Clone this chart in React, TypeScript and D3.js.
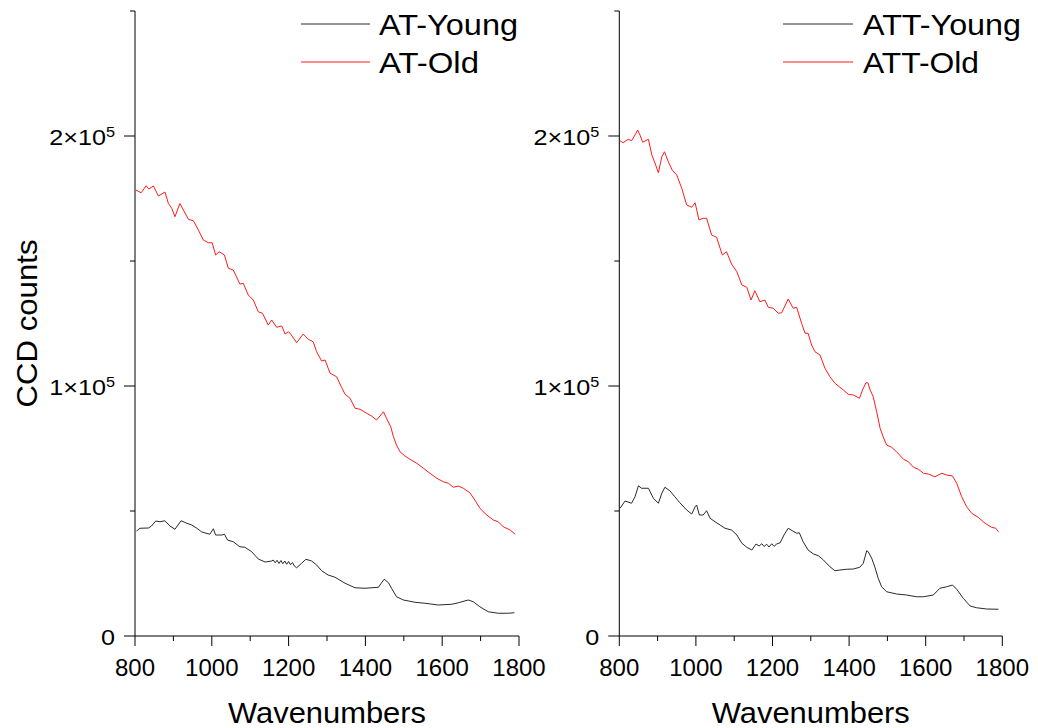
import React from "react";
import * as d3 from "d3";

// ---------- DATA ----------
const xTicksMajor = [800, 1000, 1200, 1400, 1600, 1800];
const xTicksMinor = [900, 1100, 1300, 1500, 1700];
const yTicksMajor = [0, 100000, 200000];
const yTicksMinor = [50000, 150000, 250000];

const atYoungWn = [804, 813, 835, 843, 854, 865, 878, 891, 904, 920, 935, 948, 961, 974, 995, 1004, 1010, 1026, 1033, 1041, 1056, 1073, 1086, 1104, 1121, 1139, 1156, 1160, 1165, 1170, 1175, 1180, 1185, 1190, 1195, 1200, 1205, 1210, 1215, 1221, 1234, 1245, 1260, 1273, 1286, 1303, 1321, 1347, 1373, 1399, 1434, 1442, 1449, 1460, 1468, 1481, 1499, 1529, 1555, 1590, 1625, 1642, 1668, 1681, 1698, 1720, 1746, 1772, 1788];
const atYoungCounts = [42000, 43100, 43200, 44000, 46000, 45700, 46100, 44000, 42700, 46100, 45100, 44400, 43100, 41600, 40700, 42900, 40400, 40400, 40700, 38400, 37700, 35700, 35500, 33700, 30800, 29600, 30000, 30400, 29300, 30300, 29000, 30200, 28900, 30000, 28700, 29800, 28500, 29400, 28000, 27300, 29100, 30700, 30000, 28400, 26100, 24400, 23500, 21100, 19300, 19100, 19500, 21300, 22700, 21300, 19100, 15700, 14400, 13500, 13100, 12400, 12700, 13300, 14400, 13700, 11700, 9700, 9100, 9100, 9300];

const atOldWn = [802, 816, 829, 836, 848, 861, 878, 887, 896, 904, 917, 926, 939, 952, 965, 978, 991, 1001, 1010, 1019, 1033, 1043, 1056, 1073, 1082, 1095, 1108, 1121, 1132, 1147, 1156, 1169, 1182, 1191, 1199, 1204, 1221, 1238, 1251, 1264, 1273, 1286, 1295, 1308, 1325, 1338, 1347, 1360, 1373, 1386, 1403, 1416, 1429, 1438, 1447, 1455, 1466, 1473, 1481, 1490, 1503, 1516, 1534, 1551, 1568, 1586, 1603, 1616, 1629, 1642, 1655, 1672, 1685, 1698, 1716, 1733, 1746, 1759, 1777, 1790];
const atOldCounts = [178400, 177300, 180100, 178800, 180000, 176000, 177600, 173000, 171000, 167700, 173000, 170400, 166700, 166100, 162400, 158400, 157300, 157300, 152400, 153700, 152400, 147100, 146400, 140800, 141100, 136400, 134400, 129700, 129100, 124400, 126400, 123500, 124000, 120800, 121700, 121100, 117300, 120800, 118700, 117700, 113700, 110000, 110400, 105100, 103700, 99500, 96700, 95100, 91100, 90700, 89100, 88000, 86400, 88000, 89700, 87100, 83700, 79700, 76400, 73700, 72000, 70700, 69100, 67100, 65100, 63100, 61700, 61100, 59500, 60000, 59100, 57300, 54400, 51100, 48400, 46400, 45700, 43700, 42400, 40700];

const attYoungWn = [802, 815, 832, 841, 850, 858, 876, 889, 902, 911, 919, 932, 945, 958, 976, 989, 998, 1002, 1009, 1019, 1028, 1037, 1050, 1063, 1076, 1093, 1107, 1120, 1133, 1146, 1157, 1165, 1172, 1178, 1185, 1191, 1198, 1204, 1211, 1220, 1230, 1241, 1253, 1263, 1270, 1280, 1293, 1307, 1320, 1333, 1350, 1363, 1376, 1394, 1411, 1428, 1437, 1446, 1450, 1459, 1467, 1476, 1485, 1498, 1524, 1550, 1576, 1594, 1620, 1637, 1655, 1670, 1681, 1698, 1716, 1733, 1759, 1790];
const attYoungCounts = [51100, 54000, 53100, 55700, 60100, 59100, 59100, 55100, 53100, 57100, 59500, 58100, 55700, 53300, 50400, 48800, 51700, 52400, 48400, 48400, 50100, 47100, 45700, 44400, 43100, 42400, 40400, 37100, 35500, 34400, 36800, 36000, 36900, 35800, 36700, 35600, 36900, 35900, 36800, 37300, 40400, 43100, 42000, 41100, 41300, 37700, 34400, 32800, 32100, 30400, 27700, 26100, 26400, 26700, 26800, 27500, 29100, 34100, 33700, 31100, 27700, 23100, 19700, 17700, 16800, 16400, 15700, 15700, 16400, 19100, 19700, 20400, 18700, 15100, 12000, 11300, 10800, 10700];

const attOldWn = [802, 810, 823, 832, 841, 848, 854, 861, 876, 885, 895, 902, 911, 918, 928, 938, 950, 963, 976, 989, 998, 1008, 1019, 1028, 1041, 1054, 1069, 1080, 1093, 1107, 1120, 1133, 1144, 1154, 1167, 1180, 1189, 1202, 1215, 1224, 1241, 1254, 1263, 1276, 1285, 1293, 1302, 1311, 1324, 1337, 1350, 1363, 1376, 1385, 1398, 1411, 1427, 1435, 1444, 1449, 1455, 1463, 1472, 1481, 1489, 1498, 1511, 1524, 1542, 1555, 1568, 1581, 1594, 1607, 1624, 1642, 1655, 1670, 1681, 1694, 1707, 1720, 1737, 1755, 1772, 1783, 1790];
const attOldCounts = [198100, 197300, 198700, 198100, 200400, 202400, 200400, 197500, 198700, 192400, 188400, 185300, 191700, 193700, 189700, 186400, 184400, 179100, 172400, 171500, 173300, 166400, 167100, 167100, 160400, 159500, 152400, 153700, 148800, 145700, 140400, 139500, 134400, 138100, 133700, 134400, 131500, 131100, 129100, 129300, 134800, 131100, 131500, 125100, 121100, 121100, 116400, 113700, 112400, 107100, 103700, 101100, 99500, 98400, 96700, 96400, 95100, 98400, 101300, 101300, 98400, 95700, 89700, 83100, 79700, 76400, 75500, 73700, 70700, 69700, 67500, 66700, 65100, 64800, 63700, 65100, 64400, 64000, 61100, 55700, 51700, 49100, 47500, 45100, 43500, 43100, 41700];

const leftLegend = ["AT-Young", "AT-Old"];
const rightLegend = ["ATT-Young", "ATT-Old"];
const yTickBase = ["0", "1\u00d710", "2\u00d710"];
const seriesColors = ["#2a2a2a", "#ff1a1a"];

// ---------- LAYOUT ----------
const FONT = "'Liberation Sans', Arial, sans-serif";
const yScale = d3.scaleLinear().domain([0, 250000]).range([636, 11]);

type Ser = { wn: number[]; c: number[] };

function Panel(props: {
  x0: number;
  x1: number;
  series: Ser[];
  legend: string[];
  legWidths: number[];
  legLine: [number, number];
  legText: number;
  yLabel?: boolean;
}) {
  const x = d3.scaleLinear().domain([800, 1800]).range([props.x0, props.x1]);
  const y0 = yScale(0);
  const line = d3
    .line<[number, number]>()
    .x((d) => x(d[0]))
    .y((d) => yScale(d[1]));
  return (
    <g>
      <line x1={props.x0} x2={props.x0} y1={yScale(250000)} y2={y0} stroke="#000" strokeWidth={1} />
      <line x1={props.x0} x2={props.x1} y1={y0} y2={y0} stroke="#000" strokeWidth={1} />
      {xTicksMajor.map((t) => (
        <g key={"xm" + t}>
          <line x1={x(t)} x2={x(t)} y1={y0} y2={y0 + 10} stroke="#000" />
          <text x={x(t)} y={y0 + 40} textAnchor="middle" fontSize={24} fontFamily={FONT}>
            {t}
          </text>
        </g>
      ))}
      {xTicksMinor.map((t) => (
        <line key={"xn" + t} x1={x(t)} x2={x(t)} y1={y0} y2={y0 + 5} stroke="#000" />
      ))}
      {yTicksMajor.map((t, i) => (
        <g key={"ym" + t}>
          <line x1={props.x0 - 11} x2={props.x0} y1={yScale(t)} y2={yScale(t)} stroke="#000" />
          <g transform={`translate(${props.x0 - 20}, ${yScale(t) + 9}) scale(1.12, 1)`}>
            <text x={0} y={0} textAnchor="end" fontSize={22.5} fontFamily={FONT}>
              {yTickBase[i]}
              {t > 0 ? (
                <tspan dy={-8} fontSize={14.5}>
                  5
                </tspan>
              ) : null}
            </text>
          </g>
        </g>
      ))}
      {yTicksMinor.map((t) => (
        <line key={"yn" + t} x1={props.x0 - 5} x2={props.x0} y1={yScale(t)} y2={yScale(t)} stroke="#000" />
      ))}
      {props.series.map((s, i) => (
        <path
          key={"s" + i}
          d={line(s.wn.map((w, j) => [w, s.c[j]] as [number, number])) || ""}
          fill="none"
          stroke={seriesColors[i]}
          strokeWidth={1}
        />
      ))}
      {props.legend.map((lab, i) => (
        <g key={"l" + i}>
          <line
            x1={props.legLine[0]}
            x2={props.legLine[1]}
            y1={24 + i * 38}
            y2={24 + i * 38}
            stroke={seriesColors[i]}
            strokeWidth={1}
          />
          <text
            x={props.legText}
            y={35 + i * 38}
            fontSize={29}
            fontFamily={FONT}
            textLength={props.legWidths[i]}
            lengthAdjust="spacingAndGlyphs"
          >
            {lab}
          </text>
        </g>
      ))}
      <text
        x={(props.x0 + props.x1) / 2 - 99}
        y={723}
        fontSize={29}
        fontFamily={FONT}
        textLength={198}
        lengthAdjust="spacingAndGlyphs"
      >
        Wavenumbers
      </text>
      {props.yLabel ? (
        <text
          transform={`translate(37, ${(yScale(0) + yScale(250000)) / 2 + 84}) rotate(-90)`}
          fontSize={29}
          fontFamily={FONT}
          textLength={168}
          lengthAdjust="spacingAndGlyphs"
        >
          CCD counts
        </text>
      ) : null}
    </g>
  );
}

export default function App() {
  return (
    <svg
      width={1038}
      height={728}
      style={{ position: "absolute", left: 0, top: 0, background: "#fff" }}
    >
      <rect x={0} y={0} width={1038} height={728} fill="#fff" />
      <Panel
        x0={135}
        x1={519}
        series={[
          { wn: atYoungWn, c: atYoungCounts },
          { wn: atOldWn, c: atOldCounts },
        ]}
        legend={leftLegend}
        legWidths={[139, 100]}
        legLine={[301, 370]}
        legText={379}
        yLabel
      />
      <Panel
        x0={619.3}
        x1={1002.3}
        series={[
          { wn: attYoungWn, c: attYoungCounts },
          { wn: attOldWn, c: attOldCounts },
        ]}
        legend={rightLegend}
        legWidths={[158, 116]}
        legLine={[783, 853]}
        legText={863}
      />
    </svg>
  );
}
